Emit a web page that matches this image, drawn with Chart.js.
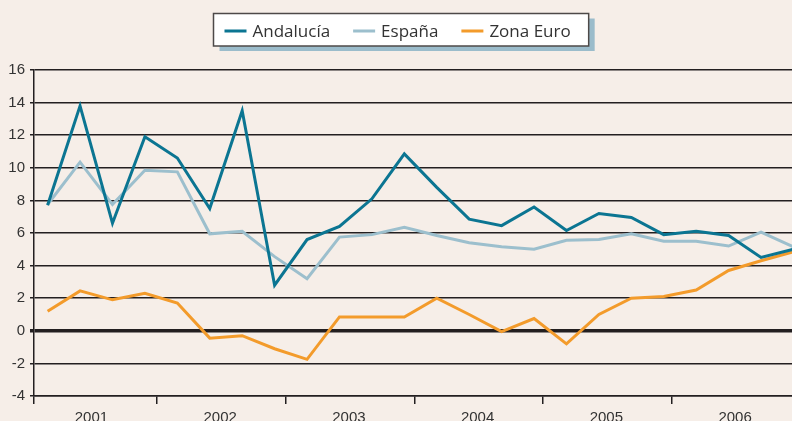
<!DOCTYPE html>
<html>
<head>
<meta charset="utf-8">
<script src="https://cdn.jsdelivr.net/npm/chart.js@4.4.1/dist/chart.umd.min.js"></script>
<style>
  html, body { margin: 0; padding: 0; background: #f6eee8; overflow: hidden; }
  #wrap { width: 792px; height: 421px; overflow: hidden; position: relative; }
  #c { display: block; }
</style>
</head>
<body>
<div id="wrap"><canvas id="c" width="810" height="430"></canvas></div>
<script>
// ---- Data (quarterly, 2001-2006) ----
const years = ['2001', '2002', '2003', '2004', '2005', '2006'];
const quarters = ['I','II','III','IV','I','II','III','IV','I','II','III','IV','I','II','III','IV','I','II','III','IV','I','II','III','IV'];
const andalucia = [7.7, 13.8, 6.6, 11.9, 10.6, 7.5, 13.5, 2.8, 5.6, 6.4, 8.1, 10.85, 8.8, 6.85, 6.45, 7.6, 6.15, 7.2, 6.95, 5.9, 6.1, 5.85, 4.5, 5.0];
const espana    = [7.75, 10.35, 7.75, 9.85, 9.75, 5.95, 6.1, 4.55, 3.2, 5.75, 5.9, 6.35, 5.85, 5.4, 5.15, 5.0, 5.55, 5.6, 5.95, 5.5, 5.5, 5.2, 6.05, 5.15];
const zonaEuro  = [1.2, 2.45, 1.9, 2.3, 1.7, -0.45, -0.3, -1.1, -1.75, 0.85, 0.85, 0.85, 2.0, 1.0, -0.05, 0.75, -0.8, 1.0, 2.0, 2.1, 2.5, 3.7, 4.3, 4.85];
const seriesNames = ['Andalucía', 'España', 'Zona Euro'];
const yTicks = [-4, -2, 0, 2, 4, 6, 8, 10, 12, 14, 16];

// ---- Layout helpers (axis geometry, not data) ----
const X_MIN = -0.42, X_MAX = 23.51;
const yearStart = j => -0.6 + 3.97 * j;          // year boundary positions on quarter axis
const boundaries = [X_MIN];
for (let j = 1; j < years.length; j++) boundaries.push(+yearStart(j).toFixed(3));
const labelPos = years.map((y, j) => +(yearStart(j) + 1.95).toFixed(3));

const COLORS = ['#0b7592', '#9cbfcd', '#f39b2b'];
const BG = '#f6eee8';
const INK = '#231f20';

const toPoints = arr => arr.map((v, i) => ({ x: i, y: v }));

const bgPlugin = {
  id: 'bg',
  beforeDraw(chart) {
    const ctx = chart.ctx;
    ctx.save();
    ctx.fillStyle = BG;
    ctx.fillRect(0, 0, chart.width, chart.height);
    ctx.restore();
  }
};

const boxLegend = {
  id: 'boxLegend',
  afterDraw(chart) {
    const ctx = chart.ctx;
    ctx.save();
    ctx.font = '17px "Open Sans", sans-serif';
    const ds = chart.data.datasets;
    const lineW = 22, gapLT = 6, gapItems = 23, padL = 11, padR = 18;
    const tws = ds.map(d => ctx.measureText(d.label).width);
    let total = padL + padR;
    tws.forEach((tw, i) => { total += lineW + gapLT + tw + (i < tws.length - 1 ? gapItems : 0); });
    const cx = 401;
    const bx = Math.round(cx - total / 2) + 0.5, by = 13.5, bh = 32.5;
    // shadow
    ctx.fillStyle = '#9bbccb';
    ctx.fillRect(bx + 6, by + 5, total, bh);
    // box
    ctx.fillStyle = '#ffffff';
    ctx.fillRect(bx, by, total, bh);
    ctx.lineWidth = 1.5;
    ctx.strokeStyle = '#4d4948';
    ctx.strokeRect(bx, by, total, bh);
    // items
    let x = bx + padL;
    const cy = 31;
    ds.forEach((d, i) => {
      ctx.fillStyle = d.borderColor;
      ctx.fillRect(x, cy - 1.5, lineW, 3);
      x += lineW + gapLT;
      ctx.fillStyle = '#333333';
      ctx.textBaseline = 'alphabetic';
      ctx.textAlign = 'left';
      ctx.fillText(d.label, x, 37.3);
      x += tws[i] + gapItems;
    });
    ctx.restore();
  }
};

const axisFont = { family: '"Liberation Sans Narrow", "Arial Narrow", "Liberation Sans", sans-serif', size: 15 };

new Chart(document.getElementById('c'), {
  type: 'line',
  data: {
    datasets: [
      { label: seriesNames[0], data: toPoints(andalucia), borderColor: COLORS[0], backgroundColor: COLORS[0], borderWidth: 3 },
      { label: seriesNames[1], data: toPoints(espana),    borderColor: COLORS[1], backgroundColor: COLORS[1], borderWidth: 3 },
      { label: seriesNames[2], data: toPoints(zonaEuro),  borderColor: COLORS[2], backgroundColor: COLORS[2], borderWidth: 3 }
    ]
  },
  options: {
    responsive: false,
    animation: false,
    devicePixelRatio: 1,
    layout: { padding: { top: 70, left: 0, right: 0, bottom: 0 } },
    elements: { point: { radius: 0 }, line: { tension: 0, borderJoinStyle: 'miter', borderCapStyle: 'butt' } },
    plugins: { legend: { display: false }, tooltip: { enabled: false } },
    scales: {
      x: {
        type: 'linear',
        min: X_MIN,
        max: X_MAX,
        afterBuildTicks(scale) {
          const vals = boundaries.concat(labelPos).sort((a, b) => a - b);
          scale.ticks = vals.map(v => ({ value: v }));
        },
        afterFit(scale) { scale.height = 34; },
        ticks: {
          autoSkip: false,
          maxRotation: 0,
          minRotation: 0,
          padding: 5,
          color: '#333333',
          font: axisFont,
          callback(value) {
            const idx = labelPos.findIndex(p => Math.abs(p - value) < 1e-6);
            return idx >= 0 ? years[idx] : '';
          }
        },
        grid: {
          drawOnChartArea: false,
          drawTicks: true,
          tickLength: 8,
          lineWidth: 1.5,
          color(ctx) {
            const v = ctx.tick ? ctx.tick.value : null;
            return boundaries.some(b => Math.abs(b - v) < 1e-6) ? INK : 'rgba(0,0,0,0)';
          }
        },
        border: { display: true, color: INK, width: 1.5 }
      },
      y: {
        min: -4,
        max: 16,
        afterBuildTicks(scale) { scale.ticks = yTicks.map(v => ({ value: v })); },
        afterFit(scale) { scale.width = 34; },
        ticks: {
          padding: 5,
          color: '#333333',
          font: axisFont
        },
        grid: {
          drawTicks: true,
          tickLength: 4,
          color: INK,
          lineWidth(ctx) { return ctx.tick && ctx.tick.value === 0 ? 3.5 : 1.5; }
        },
        border: { display: true, color: INK, width: 1.5 }
      }
    }
  },
  plugins: [bgPlugin, boxLegend]
});
</script>
</body>
</html>
